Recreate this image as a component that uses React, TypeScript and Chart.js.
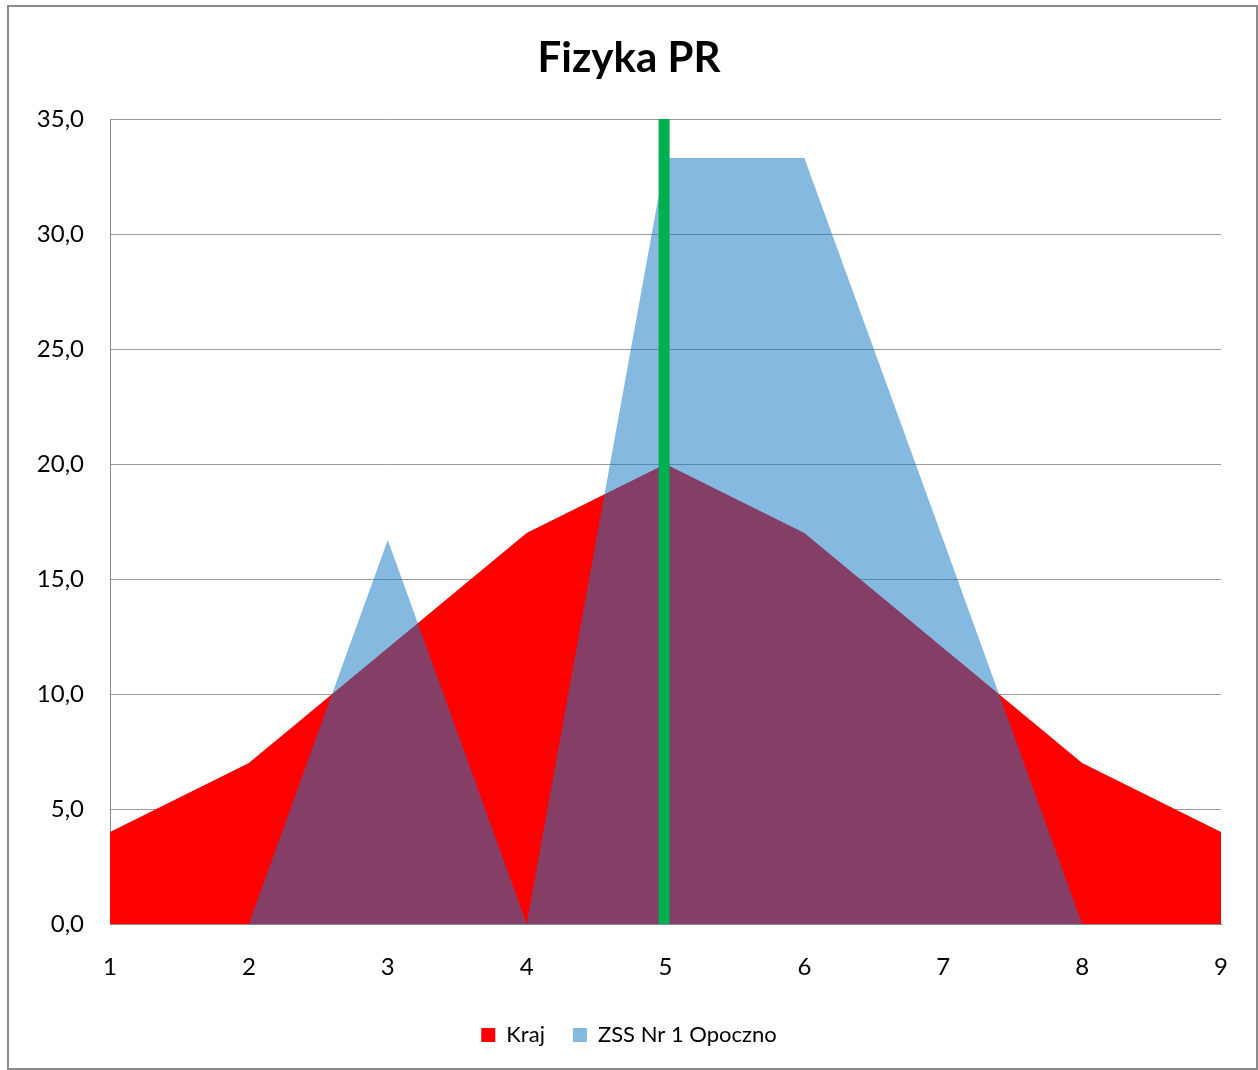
import React, { useEffect, useRef } from "react";
import { Chart, registerables } from "chart.js";

Chart.register(...registerables);

const categories = [1, 2, 3, 4, 5, 6, 7, 8, 9];
const krajValues = [4, 7, 12, 17, 20, 17, 12, 7, 4];
const zssValues = [0, 0, 16.7, 0, 33.3, 33.3, 16.7, 0, 0];
const markerX = 4.99;
const markerRange = [0, 35];
const seriesNames = ["Kraj", "ZSS Nr 1 Opoczno"];
const titleText = "Fizyka PR";

const FONT = "Lato, 'Open Sans', sans-serif";

const borderPlugin = {
  id: "outerBorder",
  beforeDraw(chart: any) {
    const ctx = chart.ctx;
    ctx.save();
    ctx.fillStyle = "#ffffff";
    ctx.fillRect(0, 0, chart.width, chart.height);
    ctx.strokeStyle = "#8a8a8a";
    ctx.lineWidth = 2;
    ctx.strokeRect(8, 6, 1249, 1063);
    ctx.restore();
  },
};

export default function App() {
  const ref = useRef<HTMLCanvasElement | null>(null);
  useEffect(() => {
    if (!ref.current) return;
    const chart = new Chart(ref.current, {
      type: "line",
      data: {
        datasets: [
          {
            label: seriesNames[0],
            data: categories.map((c, i) => ({ x: c, y: krajValues[i] })),
            backgroundColor: "#ff0000",
            borderColor: "#ff0000",
            borderWidth: 0,
            pointRadius: 0,
            fill: "origin",
            tension: 0,
            order: 2,
          },
          {
            label: seriesNames[1],
            data: categories.map((c, i) => ({ x: c, y: zssValues[i] })),
            backgroundColor: "rgba(21,120,196,0.52)",
            borderColor: "rgba(21,120,196,0.52)",
            borderWidth: 0,
            pointRadius: 0,
            fill: "origin",
            tension: 0,
            order: 1,
          },
          {
            label: "marker",
            data: markerRange.map((v) => ({ x: markerX, y: v })),
            borderColor: "#00b050",
            backgroundColor: "#00b050",
            borderWidth: 11,
            borderCapStyle: "butt",
            pointRadius: 0,
            fill: false,
            order: 0,
          },
        ],
      },
      options: {
        animation: false,
        responsive: false,
        layout: { padding: { top: 0, left: 0, right: 0, bottom: 14 } },
        plugins: {
          title: {
            display: true,
            text: titleText,
            color: "#000",
            font: { family: FONT, size: 42, weight: "bold", lineHeight: 1.2 },
            padding: { top: 33, bottom: 35.6 },
          },
          legend: {
            position: "bottom",
            labels: {
              filter: (item: any) => item.datasetIndex < 2,
              sort: (a: any, b: any) => a.datasetIndex - b.datasetIndex,
              color: "#000",
              font: { family: FONT, size: 22 },
              boxWidth: 14,
              boxHeight: 14,
              padding: 28,
            },
          },
          tooltip: { enabled: false },
        },
        scales: {
          x: {
            type: "linear",
            min: 1,
            max: 9,
            ticks: {
              stepSize: 1,
              color: "#000",
              font: { family: FONT, size: 24 },
              padding: 21,
            },
            grid: { display: false },
            border: { display: true, color: "#8a8a8a", width: 1 },
            afterFit: (s: any) => {
              s.height = 72;
            },
          },
          y: {
            min: 0,
            max: 35,
            ticks: {
              stepSize: 5,
              color: "#000",
              font: { family: FONT, size: 24 },
              padding: 26,
              callback: (v: any) => Number(v).toFixed(1).replace(".", ","),
            },
            grid: { color: "#9a9a9a", lineWidth: 1, drawTicks: false },
            border: { display: true, color: "#8a8a8a", width: 1 },
            afterFit: (s: any) => {
              s.width = 110;
            },
          },
          yRight: {
            position: "right",
            min: 0,
            max: 35,
            display: true,
            ticks: { display: false },
            grid: { display: false, drawTicks: false },
            border: { display: false },
            afterFit: (s: any) => {
              s.width = 37;
            },
          },
        },
      },
      plugins: [borderPlugin],
    } as any);
    return () => chart.destroy();
  }, []);
  return (
    <div style={{ position: "fixed", left: 0, top: 0, width: 1258, height: 1070, overflow: "hidden" }}>
      <canvas ref={ref} width={1258} height={1070} style={{ display: "block" }} />
    </div>
  );
}
